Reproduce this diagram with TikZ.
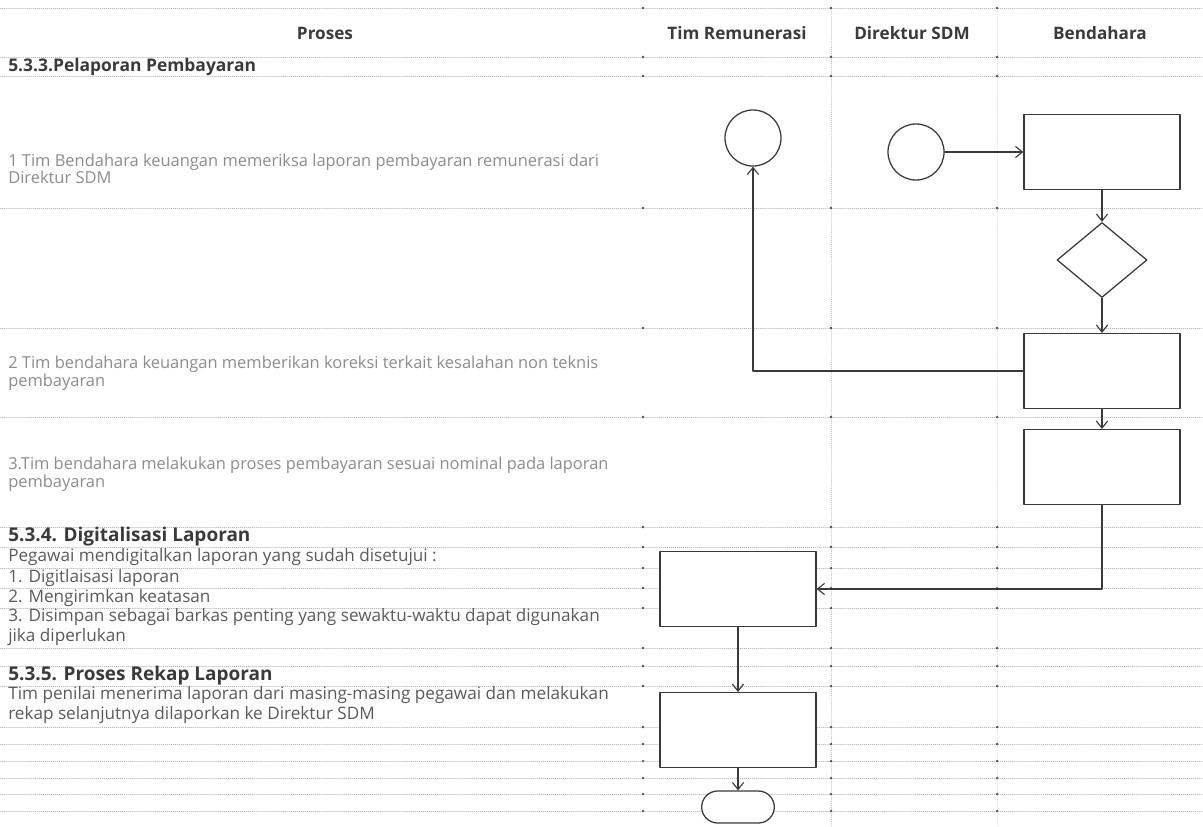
\documentclass[tikz,border=0pt]{standalone}
\usepackage{fontspec}
\setmainfont{Open Sans}
\usetikzlibrary{arrows.meta,shapes.geometric,shapes.misc,positioning}
\definecolor{ink}{HTML}{3A3A3A}
\definecolor{soft}{HTML}{8C8C8C}
\definecolor{body}{HTML}{5A5A5A}
\begin{document}
\begin{tikzpicture}[x=0.025cm,y=-0.025cm,>={Straight Barb[length=5pt,width=8pt]}, line join=round, line cap=round,
	colhead/.style={font=\fontsize{12.2}{14}\selectfont\bfseries, text=ink, inner sep=0pt},
	secttitle/.style={font=\fontsize{13.5}{15}\selectfont\bfseries, text=ink, anchor=west, inner sep=0pt},
	softtxt/.style={font=\fontsize{11.7}{12.5}\selectfont, text=soft, anchor=west, align=left, inner sep=0pt},
	bodytxt/.style={font=\fontsize{12.2}{13.8}\selectfont, text=body, anchor=west, align=left, inner sep=0pt},
	procbox/.style={draw=ink, line width=0.9pt, fill=white, minimum width=3.9cm, minimum height=1.87cm},
	eventnode/.style={circle, draw=ink, line width=0.9pt, fill=white, minimum size=1.4cm},
	decbox/.style={diamond, draw=ink, line width=0.9pt, fill=white, minimum width=2.25cm, minimum height=1.875cm, inner sep=0pt},
	endnode/.style={rounded rectangle, draw=ink, line width=0.9pt, fill=white, minimum width=2.05cm, minimum height=0.8cm},
	flow/.style={draw=ink, line width=0.8pt}]
	\def\xmax{1203} \def\ymax{827}
	\useasboundingbox (0,0) rectangle (\xmax,\ymax);
	% lajur dan baris
	\draw[gray!45,densely dotted] (831,8)--(831,\ymax);
	\draw[gray!25,densely dotted] (997,8)--(997,\ymax);
	\foreach \y in {8,57,76,208,328,417,527,547,568,588,608,648,666,686,727,744,761,778,794,811}{
		\draw[gray!60,densely dotted] (0,\y)--(\xmax,\y);
		\foreach \x in {643,831,997} \fill[gray!60!black] (\x,\y) circle (0.9pt);
	}
	% kepala kolom
	\node[colhead] (hProses) at (325,33) {Proses};
	\node[colhead] (hTim) at (737,33) {Tim Remunerasi};
	\node[colhead] (hDir) at (912,33) {Direktur SDM};
	\node[colhead] (hBen) at (1100,33) {Bendahara};
	% teks proses
	\node[secttitle, font=\fontsize{12.4}{14}\selectfont\bfseries] (s533) at (8,67) {5.3.3.Pelaporan Pembayaran};
	\node[softtxt] (p1) at (8,169) {1 Tim Bendahara keuangan memeriksa laporan pembayaran remunerasi dari\\Direktur SDM};
	\node[softtxt] (p2) at (8,373) {2 Tim bendahara keuangan memberikan koreksi terkait kesalahan non teknis\\pembayaran};
	\node[softtxt] (p3) at (8,474) {3.Tim bendahara melakukan proses pembayaran sesuai nominal pada laporan\\pembayaran};
	\node[secttitle] (s534) at (8,537) {5.3.4. Digitalisasi Laporan};
	\node[bodytxt] (d0) at (8,557) {Pegawai mendigitalkan laporan yang sudah disetujui :};
	\node[bodytxt] (d1) at (8,578) {1. Digitlaisasi laporan};
	\node[bodytxt] (d2) at (8,598) {2. Mengirimkan keatasan};
	\node[bodytxt] (d3) at (8,627) {3. Disimpan sebagai barkas penting yang sewaktu-waktu dapat digunakan\\jika diperlukan};
	\node[secttitle] (s535) at (8,676) {5.3.5. Proses Rekap Laporan};
	\node[bodytxt] (r0) at (8,705) {Tim penilai menerima laporan dari masing-masing pegawai dan melakukan\\rekap selanjutnya dilaporkan ke Direktur SDM};
	% bagan alir
	\node[eventnode] (startA) at (753,138) {};
	\node[eventnode] (startB) at (916,152) {};
	\node[procbox] (chk) at (1102,152) {};
	\node[decbox] (dec) at (1102,260) {};
	\node[procbox] (fix) at (1102,371) {};
	\node[procbox] (pay) at (1102,467) {};
	\node[procbox] (digi) at (738,589) {};
	\node[procbox] (rekap) at (738,730) {};
	\node[endnode] (finish) at (738,807) {};
	\draw[->,flow] (startB) -- (chk);
	\draw[->,flow] (chk) -- (dec);
	\draw[->,flow] (dec) -- (fix);
	\draw[->,flow] (fix.west) -| (startA.south);
	\draw[->,flow] (fix) -- (pay);
	\draw[->,flow] (pay.south) |- (digi.east);
	\draw[->,flow] (digi) -- (rekap);
	\draw[->,flow] (rekap) -- (finish);
\end{tikzpicture}
\end{document}
